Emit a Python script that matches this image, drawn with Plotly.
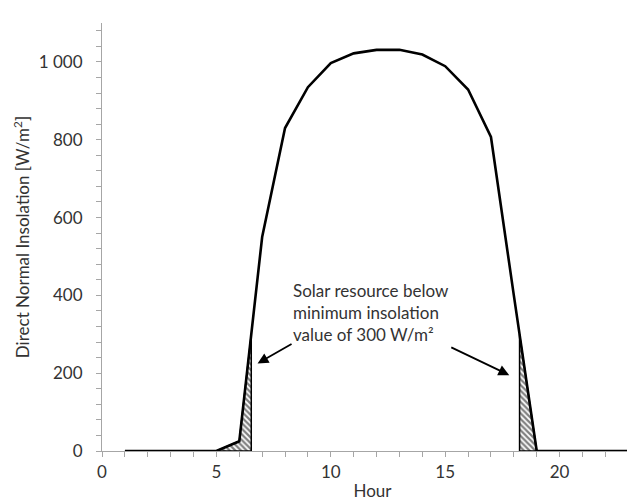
import numpy as np
import plotly.graph_objects as go

# ---- data ----
hours = [1, 2, 3, 4, 5, 6, 7, 8, 9, 10, 11, 12, 13, 14, 15, 16, 17, 18, 19, 20, 21, 22, 23, 24]
dni = [0, 0, 0, 0, 0, 25, 550, 830, 935, 997, 1022, 1031, 1031, 1019, 989, 929, 807, 400, 0, 0, 0, 0, 0, 0]
threshold = 300
y_tickvals = [0, 200, 400, 600, 800, 1000]
y_ticktext = ["0", "200", "400", "600", "800", "1 000"]
x_tickvals = [0, 5, 10, 15, 20]
note_text = "Solar resource below<br>minimum insolation<br>value of 300 W/m²"

FONT = "Lato"
FS = 17
TXT = "#333333"
AX = "#a6a6a6"

x = np.array(hours, dtype=float)
y = np.array(dni, dtype=float)


def crossing(i0, i1):
    x0, x1, y0, y1 = x[i0], x[i1], y[i0], y[i1]
    return x0 + (threshold - y0) * (x1 - x0) / (y1 - y0)


# morning region: from last zero before sunrise up to the threshold crossing
i_rise = next(i for i in range(len(y) - 1) if y[i] == 0 and y[i + 1] > 0)
i_up = next(i for i in range(i_rise, len(y) - 1) if y[i] < threshold <= y[i + 1])
xc_m = crossing(i_up, i_up + 1)
mx = list(x[i_rise:i_up + 1]) + [xc_m, xc_m, x[i_rise]]
my = list(y[i_rise:i_up + 1]) + [threshold, 0, 0]

# evening region: from threshold crossing down to first zero after sunset
i_dn = next(i for i in range(len(y) - 1) if y[i] >= threshold > y[i + 1] and i > i_up)
i_set = next(i for i in range(i_dn + 1, len(y)) if y[i] == 0)
xc_e = crossing(i_dn, i_dn + 1)
ex = [xc_e, xc_e] + list(x[i_dn + 1:i_set + 1]) + [xc_e]
ey = [0, threshold] + list(y[i_dn + 1:i_set + 1]) + [0]

fig = go.Figure()
pattern = dict(shape="\\", fgcolor="black", bgcolor="white", size=4, solidity=0.55)
for px_, py_ in [(mx, my), (ex, ey)]:
    fig.add_trace(go.Scatter(x=px_, y=py_, mode="lines", fill="toself",
                             fillpattern=pattern, fillcolor="white",
                             line=dict(color="black", width=1.5),
                             hoverinfo="skip", showlegend=False))

fig.add_trace(go.Scatter(x=hours, y=dni, mode="lines",
                         line=dict(color="black", width=2.6),
                         showlegend=False))

fig.add_annotation(x=8.25, y=355, xref="x", yref="y", text=note_text,
                   showarrow=False, xanchor="left", yanchor="middle", align="left",
                   font=dict(family=FONT, size=FS, color=TXT))
# arrows
fig.add_annotation(x=6.8, y=225, ax=8.35, ay=277, xref="x", yref="y",
                   axref="x", ayref="y", text="", showarrow=True,
                   arrowhead=2, arrowsize=1.2, arrowwidth=1.8, arrowcolor="black")
fig.add_annotation(x=17.8, y=195, ax=15.2, ay=268, xref="x", yref="y",
                   axref="x", ayref="y", text="", showarrow=True,
                   arrowhead=2, arrowsize=1.2, arrowwidth=1.8, arrowcolor="black")

fig.update_layout(
    width=635, height=500,
    margin=dict(l=94, r=0, t=15, b=57),
    paper_bgcolor="white", plot_bgcolor="white",
    font=dict(family=FONT, size=FS, color=TXT),
)
fig.update_xaxes(
    range=[0, 541 / 22.88], tickvals=x_tickvals, ticks="outside", ticklen=5,
    tickcolor=AX, tickwidth=1, showline=True, linecolor=AX, linewidth=1,
    showgrid=False, zeroline=False, ticklabelstandoff=1,
    minor=dict(dtick=1, ticks="outside", ticklen=5, tickcolor=AX, showgrid=False),
    title=dict(text="Hour", standoff=3, font=dict(family=FONT, size=FS, color=TXT)),
)
fig.update_yaxes(
    range=[0, 1100], tickvals=y_tickvals, ticktext=y_ticktext, ticks="outside",
    ticklen=5, tickcolor=AX, tickwidth=1, showline=True, linecolor=AX, linewidth=1,
    showgrid=False, zeroline=False, ticklabelstandoff=10,
    minor=dict(tick0=0, dtick=40, ticks="outside", ticklen=5, tickcolor=AX, showgrid=False),
    title=dict(text="Direct Normal Insolation [W/m<sup>2</sup>]", standoff=4,
               font=dict(family=FONT, size=FS, color=TXT)),
)

fig.write_html("out.html")
